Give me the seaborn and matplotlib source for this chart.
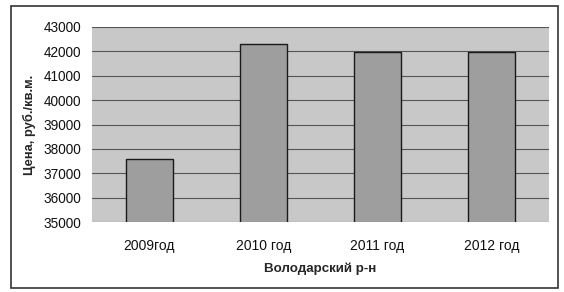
import matplotlib
matplotlib.use("Agg")
import matplotlib.pyplot as plt
import seaborn as sns
import pandas as pd
from matplotlib.patches import Rectangle

categories = ["2009год", "2010 год", "2011 год", "2012 год"]
prices = [37600, 42300, 41980, 41970]
yticks = [35000, 36000, 37000, 38000, 39000, 40000, 41000, 42000, 43000]

df = pd.DataFrame({"year": categories, "price": prices})

sns.set_style("white")
plt.rcParams["font.family"] = ["Liberation Sans", "DejaVu Sans"]

fig = plt.figure(figsize=(5.64, 2.92), dpi=100)
ax = fig.add_axes([92/564, 1-222/292, (549-92)/564, (222-27)/292])
ax.set_facecolor("#c8c8c8")

sns.barplot(data=df, x="year", y="price", ax=ax, color="#9e9e9e",
            width=0.41, edgecolor="#1a1a1a", linewidth=1.0, saturation=1, zorder=3)

ax.set_ylim(35000, 43000)
ax.set_xlim(-0.5, 3.5)
ax.set_yticks(yticks)
ax.set_yticklabels([str(v) for v in yticks], fontsize=9.8, color="#111111")
ax.tick_params(axis="y", length=3, pad=5, color="#555555")
ax.tick_params(axis="x", which="major", labelsize=10, colors="#111111", length=0, pad=12)
ax.set_xticks([0.5, 1.5, 2.5], minor=True)
ax.tick_params(axis="x", which="minor", length=4, color="#888888")
ax.grid(axis="y", color="#555555", linewidth=0.8, zorder=1)
ax.set_axisbelow(True)
for s in ax.spines.values():
    s.set_visible(False)

ax.set_xlabel("Володарский р-н", fontsize=9.6, fontweight="bold", labelpad=7)
ax.set_ylabel("Цена, руб./кв.м.", fontsize=9.3, fontweight="bold", labelpad=5)

fig.patches.append(Rectangle((11/564, 1-288/292), (558-11)/564, (288-6)/292,
                             transform=fig.transFigure, fill=False,
                             edgecolor="#333333", linewidth=1.2))

fig.savefig("out.png", dpi=100)
